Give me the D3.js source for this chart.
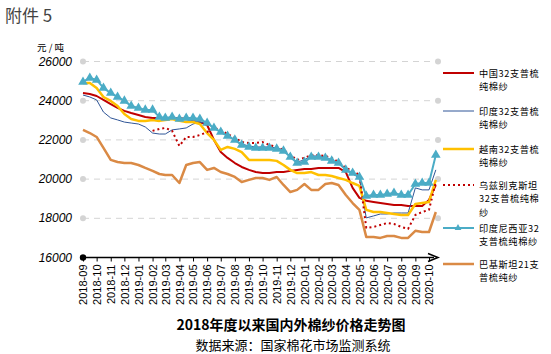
<!DOCTYPE html>
<html>
<head>
<meta charset="utf-8">
<script src="https://cdn.jsdelivr.net/npm/d3@7"></script>
<style>
  body { margin: 0; background: #fff; }
  text { font-family: "Liberation Sans", "Noto Sans CJK SC", sans-serif; }
  .cjk { font-family: "Noto Sans CJK SC", sans-serif; }
</style>
</head>
<body>
<div id="chart"></div>
<script>
// half-month samples, 2018-09-01 .. 2020-10-16
var dates = d3.range(52).map(function(i) {
  return new Date(2018, 8 + Math.floor(i / 2), i % 2 ? 16 : 1);
});

var china = [24390,24340,24240,24040,23830,23630,23480,23370,23270,23170,23120,23120,23070,23120,23120,23070,
  22970,22910,22760,22000,21380,21080,20820,20620,20470,20360,20310,20310,20360,20360,20420,20470,
  20520,20520,20570,20570,20570,20570,20360,19550,19040,18890,18830,18780,18730,18680,18680,18630,
  18630,18630,18940,19700];
var india = [24290,24190,24040,23420,23120,23020,22910,22860,22810,22660,22350,22300,22300,22510,22560,22610,
  22810,22910,22810,22610,22400,22200,22000,21790,21690,21640,21640,21640,21590,21490,21130,20870,
  20980,21180,21180,21130,20980,20820,20470,20260,20060,18020,18120,18220,18220,18270,18270,18270,
  19550,19450,19450,20470];
var vietnam = [24900,24900,24650,24190,23990,23730,23320,23070,22970,22970,23020,22970,23020,23070,22970,22910,
  22910,22810,22350,22000,21490,21640,21540,21380,20980,20980,20980,20980,20930,20720,20470,20310,
  20310,20360,20210,20210,20160,20060,19960,19800,19650,18430,18320,18320,18270,18220,18170,18170,
  18730,18780,18830,19960];
var uzbek = [null,null,null,null,null,null,null,null,null,null,22460,22560,22610,22460,21690,22150,
  22150,22250,22400,22610,22510,22300,22100,21890,21840,21840,21890,21740,21640,21490,21230,20980,
  21080,21230,21230,21180,21080,20870,20570,20420,20210,17510,17560,17660,17760,17710,17560,17460,
  18170,18320,18430,19850];
var indonesia = [24955,25160,25060,24650,24390,24190,23990,23730,23630,23530,23530,23170,23120,23170,23070,23120,
  23120,23070,22860,22610,22400,22200,22000,21740,21640,21590,21590,21590,21540,21440,21130,20820,
  20870,21130,21130,21080,20930,20820,20470,20310,20110,19140,19190,19190,19240,19290,19190,19190,
  19750,19800,19800,21230];
var pakistan = [22510,22350,22150,21590,20980,20870,20820,20820,20720,20570,20420,20260,20210,20210,19800,20720,
  20820,20870,20470,20570,20360,20260,20110,19850,19960,20060,20060,19960,20110,19700,19340,19450,
  19750,19450,19450,19750,19800,19700,19190,18780,18430,17050,17050,17000,17100,17100,17000,17000,
  17360,17300,17300,18320];

var yTicks = [16000, 18000, 20000, 22000, 24000, 26000];
var months = d3.timeMonth.range(new Date(2018, 8, 1), new Date(2020, 9, 2));

var series = [
  {name: ["中国32支普梳", "纯棉纱"], values: china, color: "#C00000", width: 2},
  {name: ["印度32支普梳", "纯棉纱"], values: india, color: "#2F5597", width: 1},
  {name: ["越南32支普梳", "纯棉纱"], values: vietnam, color: "#FFC000", width: 2.5},
  {name: ["乌兹别克斯坦", "32支普梳纯棉", "纱"], values: uzbek, color: "#C00000", width: 2, dash: "2,3"},
  {name: ["印度尼西亚32", "支普梳纯棉纱"], values: indonesia, color: "#4BACC6", width: 2, marker: true},
  {name: ["巴基斯坦21支", "普梳纯纱"], values: pakistan, color: "#DA8A45", width: 2.5}
];

var W = 551, H = 354;
var svg = d3.select("#chart").append("svg")
  .attr("width", W)
  .attr("height", H);

var x = d3.scaleTime()
  .domain([months[0], months[months.length - 1]])
  .range([83, 429]);
var y = d3.scaleLinear()
  .domain([16000, 26000])
  .range([257.5, 61.5]);

// header
svg.append("text").attr("class", "cjk")
  .attr("x", 5).attr("y", 22)
  .attr("font-size", 17).attr("fill", "#444")
  .text("附件 5");
svg.append("text").attr("class", "cjk")
  .attr("x", 37).attr("y", 51)
  .attr("font-size", 9.5).attr("fill", "#000")
  .text("元 / 吨");

// gridlines
yTicks.forEach(function(t) {
  var yy = y(t);
  if (t !== 16000) {
    svg.append("line")
      .attr("x1", 83).attr("x2", 438)
      .attr("y1", yy).attr("y2", yy)
      .attr("stroke", "#d4d4d4")
      .attr("stroke-width", 1)
      .attr("stroke-dasharray", "6,5");
    svg.append("circle").attr("cx", 83).attr("cy", yy).attr("r", 3).attr("fill", "#d4d4d4");
    svg.append("circle").attr("cx", 438).attr("cy", yy).attr("r", 3).attr("fill", "#d4d4d4");
  }
  svg.append("text")
    .attr("x", 72).attr("y", yy + 4)
    .attr("text-anchor", "end")
    .attr("font-size", 12)
    .attr("font-style", "italic")
    .text(t);
});

// x axis
var xAxis = d3.axisBottom(x)
  .tickValues(months)
  .tickSize(4)
  .tickFormat(d3.timeFormat("%Y-%m"));
var gx = svg.append("g")
  .attr("transform", "translate(0," + y(16000) + ")")
  .call(xAxis);
gx.select(".domain").remove();
gx.selectAll(".tick line").attr("stroke", "#000");
gx.selectAll(".tick text")
  .attr("font-size", 11)
  .attr("fill", "#000")
  .attr("text-anchor", "end")
  .attr("transform", "rotate(-90)")
  .attr("x", -7)
  .attr("y", 0)
  .attr("dy", "0.35em");
svg.append("line")
  .attr("x1", 83).attr("x2", 434)
  .attr("y1", y(16000)).attr("y2", y(16000))
  .attr("stroke", "#000").attr("stroke-width", 1.5);
svg.append("circle").attr("cx", 83).attr("cy", y(16000)).attr("r", 3.2).attr("fill", "#000");
svg.append("path")
  .attr("d", "M428," + (y(16000) - 4) + " L438," + y(16000) + " L428," + (y(16000) + 4))
  .attr("fill", "none").attr("stroke", "#000").attr("stroke-width", 1.5);

// lines
var line = d3.line()
  .defined(function(d) { return d.v != null; })
  .x(function(d) { return x(d.date); })
  .y(function(d) { return y(d.v); });

series.forEach(function(s) {
  var pts = s.values.map(function(v, i) { return {date: dates[i], v: v}; });
  svg.append("path")
    .datum(pts)
    .attr("fill", "none")
    .attr("stroke", s.color)
    .attr("stroke-width", s.width)
    .attr("stroke-dasharray", s.dash || null)
    .attr("stroke-linejoin", "round")
    .attr("d", line);
  if (s.marker) {
    svg.selectAll(null)
      .data(pts.filter(function(d) { return d.v != null; }))
      .enter().append("path")
      .attr("d", d3.symbol(d3.symbolTriangle, 40))
      .attr("transform", function(d) { return "translate(" + x(d.date) + "," + y(d.v) + ")"; })
      .attr("fill", s.color);
  }
});

// legend
var legendY = [73, 111, 149, 185, 228, 264];
series.forEach(function(s, i) {
  var ly = legendY[i];
  svg.append("line")
    .attr("x1", 443).attr("x2", 474)
    .attr("y1", ly).attr("y2", ly)
    .attr("stroke", s.color)
    .attr("stroke-width", s.width > 2 ? 2.5 : s.width)
    .attr("stroke-dasharray", s.dash || null);
  if (s.marker) {
    svg.append("path")
      .attr("d", d3.symbol(d3.symbolTriangle, 20))
      .attr("transform", "translate(458," + ly + ")")
      .attr("fill", s.color);
  }
  s.name.forEach(function(t, j) {
    svg.append("text").attr("class", "cjk")
      .attr("x", 479).attr("y", ly + 4 + j * 13.4)
      .attr("font-size", 9.2)
      .attr("letter-spacing", 0.6)
      .text(t);
  });
});

// titles
svg.append("text").attr("class", "cjk")
  .attr("x", 291).attr("y", 330)
  .attr("text-anchor", "middle")
  .attr("font-size", 14).attr("font-weight", "bold")
  .text("2018年度以来国内外棉纱价格走势图");
svg.append("text").attr("class", "cjk")
  .attr("x", 293).attr("y", 350)
  .attr("text-anchor", "middle")
  .attr("font-size", 13)
  .text("数据来源：国家棉花市场监测系统");
</script>
</body>
</html>
